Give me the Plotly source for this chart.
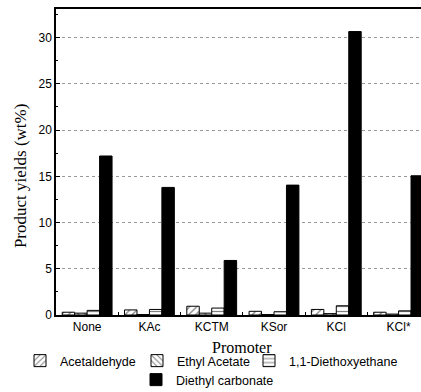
import plotly.graph_objects as go

promoters = ["None", "KAc", "KCTM", "KSor", "KCl", "KCl*"]
acetaldehyde = [0.3, 0.55, 0.95, 0.4, 0.6, 0.3]
ethyl_acetate = [0.2, 0.05, 0.2, 0.05, 0.15, 0.1]
diethoxyethane = [0.5, 0.6, 0.75, 0.35, 1.0, 0.45]
diethyl_carbonate = [17.2, 13.8, 5.9, 14.05, 30.66, 15.06]

SANS = "Liberation Sans, Arial"
SERIF = "Liberation Serif, Times New Roman"
W, H = 421, 392

# name, values, hatch, legend id, legend anchor (px from left, px from top)
series = [
    ("Acetaldehyde", acetaldehyde, "/", "legend", (20, 361)),
    ("Ethyl Acetate", ethyl_acetate, "\\", "legend2", (137, 361)),
    ("1,1-Diethoxyethane", diethoxyethane, "-", "legend3", (249, 361)),
    ("Diethyl carbonate", diethyl_carbonate, "", "legend4", (136, 380)),
]

fig = go.Figure()
legends = {}
for name, vals, pat, leg, (lx, ly) in series:
    if pat:
        marker = dict(color="white", line=dict(color="black", width=1),
                      pattern=dict(shape=pat, fgcolor="black", bgcolor="white",
                                   size=5, solidity=0.25, fillmode="overlay"))
    else:
        marker = dict(color="black", line=dict(color="black", width=1))
    fig.add_trace(go.Bar(x=promoters, y=vals, name=name, marker=marker, legend=leg))
    legends[leg] = dict(orientation="h", xref="container", yref="container",
                        x=lx / W, xanchor="left", y=1 - ly / H, yanchor="middle",
                        font=dict(family=SANS, size=12.5), itemclick=False,
                        bgcolor="rgba(0,0,0,0)")

fig.update_layout(
    width=W, height=H,
    margin=dict(l=56, r=0, t=9, b=77, autoexpand=False),
    paper_bgcolor="white", plot_bgcolor="white",
    barmode="group", bargap=0.2, bargroupgap=0,
    font=dict(family=SANS, size=12, color="black"),
    showlegend=True,
    annotations=[
        dict(text="Product yields (wt%)", textangle=-90, showarrow=False,
             xref="paper", yref="paper", x=-0.0986, y=0.454,
             xanchor="center", yanchor="middle",
             font=dict(family=SERIF, size=17)),
        dict(text="Promoter", showarrow=False,
             xref="paper", yref="paper", x=0.51, y=-0.1046,
             xanchor="center", yanchor="middle",
             font=dict(family=SERIF, size=16)),
    ],
    **legends,
)

fig.update_xaxes(
    range=[-0.5, 5.36], automargin=False, tickangle=0,
    showline=True, linecolor="black", linewidth=1.5, mirror=True,
    ticks="inside", tickson="boundaries", ticklen=3, tickcolor="black",
    showgrid=False,
    tickfont=dict(family=SANS, size=12),
)
fig.update_yaxes(
    range=[0, 33.1], automargin=False,
    tick0=0, dtick=5,
    showline=True, linecolor="black", linewidth=1.5, mirror=False,
    ticks="inside", ticklen=4, tickcolor="black",
    minor=dict(ticks="inside", ticklen=2, dtick=2.5, tick0=0, tickcolor="black", showgrid=False),
    showgrid=True, gridcolor="#999999", griddash="dot", gridwidth=1,
    zeroline=False,
    tickfont=dict(family=SANS, size=12),
)

fig.write_html("out.html")
